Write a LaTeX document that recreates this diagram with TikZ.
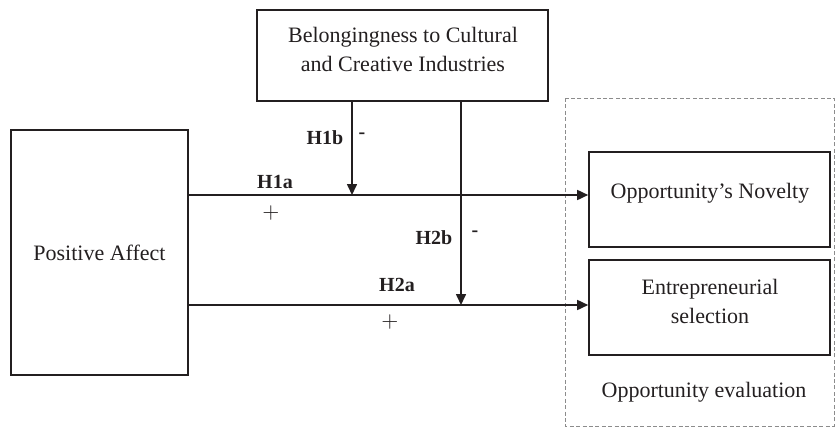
\documentclass[tikz,border=0pt]{standalone}
\usepackage{fontspec}
\setmainfont{Liberation Serif}
\usepackage{tikz}
\usetikzlibrary{arrows.meta}
\definecolor{inkdark}{RGB}{35,31,32}
\definecolor{dashgrey}{RGB}{140,140,140}

\begin{document}
\begin{tikzpicture}[x=0.5pt, y=-0.5pt, thick, draw=inkdark, text=inkdark,
    box/.style={draw=inkdark, rectangle, inner sep=0pt},
    txt/.style={align=center, inner sep=0pt, font=\fontsize{11}{14.5}\selectfont},
    hlab/.style={font=\fontsize{10}{12}\selectfont\bfseries},
    sign/.style={font=\fontsize{11}{13}\selectfont},
    arr/.style={draw=inkdark, -{Triangle[length=5.5pt, width=5pt]}}]
        \useasboundingbox (0,0) rectangle (835,428);

        % Cajas
        \node[box, minimum width=145.5pt, minimum height=45.5pt] (bel) at (402.5,55.5) {};
        \node[box, minimum width=88.5pt, minimum height=122.5pt] (pa) at (99.5,252.5) {};
        \node[box, minimum width=120.5pt, minimum height=47.5pt] (nov) at (709.5,199.5) {};
        \node[box, minimum width=120.5pt, minimum height=47.5pt] (sel) at (709.5,307.5) {};

        % Textos de las cajas
        \node[txt] (beltxt) at (403,49) {Belongingness to Cultural\\and Creative Industries};
        \node[txt] (patxt) at (pa.center) {Positive Affect};
        \node[txt] (novtxt) at (710,193) {Opportunity's Novelty};
        \node[txt] (seltxt) at (710,301) {Entrepreneurial\\selection};

        % Evaluacion de la oportunidad
        \draw[dashgrey, thin, dashed, dash pattern=on 2pt off 1.2pt] (565,98) rectangle (834,426);
        \node[txt] (ev) at (704,392) {Opportunity evaluation};

        % Puntos de moderacion
        \coordinate (h1) at (352,195);
        \coordinate (h2) at (461,305);

        % Efectos directos
        \draw[arr] (pa.east |- h1) -- (nov.west |- h1);
        \draw[arr] (pa.east |- h2) -- (sel.west |- h2);

        % Moderadores
        \draw[arr] (bel.south -| h1) -- (h1);
        \draw[arr] (bel.south -| h2) -- (h2);

        % Etiquetas
        \node[hlab] (h1a) at (275,182) {H1a};
        \node[hlab] (h1b) at (325,138) {H1b};
        \node[hlab] (h2a) at (397,285) {H2a};
        \node[hlab] (h2b) at (434,238) {H2b};
        \node[sign] (p1) at (271,213) {$+$};
        \node[sign] (p2) at (390,322) {$+$};
        \node[hlab] (m1) at (362,136) {-};
        \node[hlab] (m2) at (475,234) {-};
    \end{tikzpicture}
\end{document}
